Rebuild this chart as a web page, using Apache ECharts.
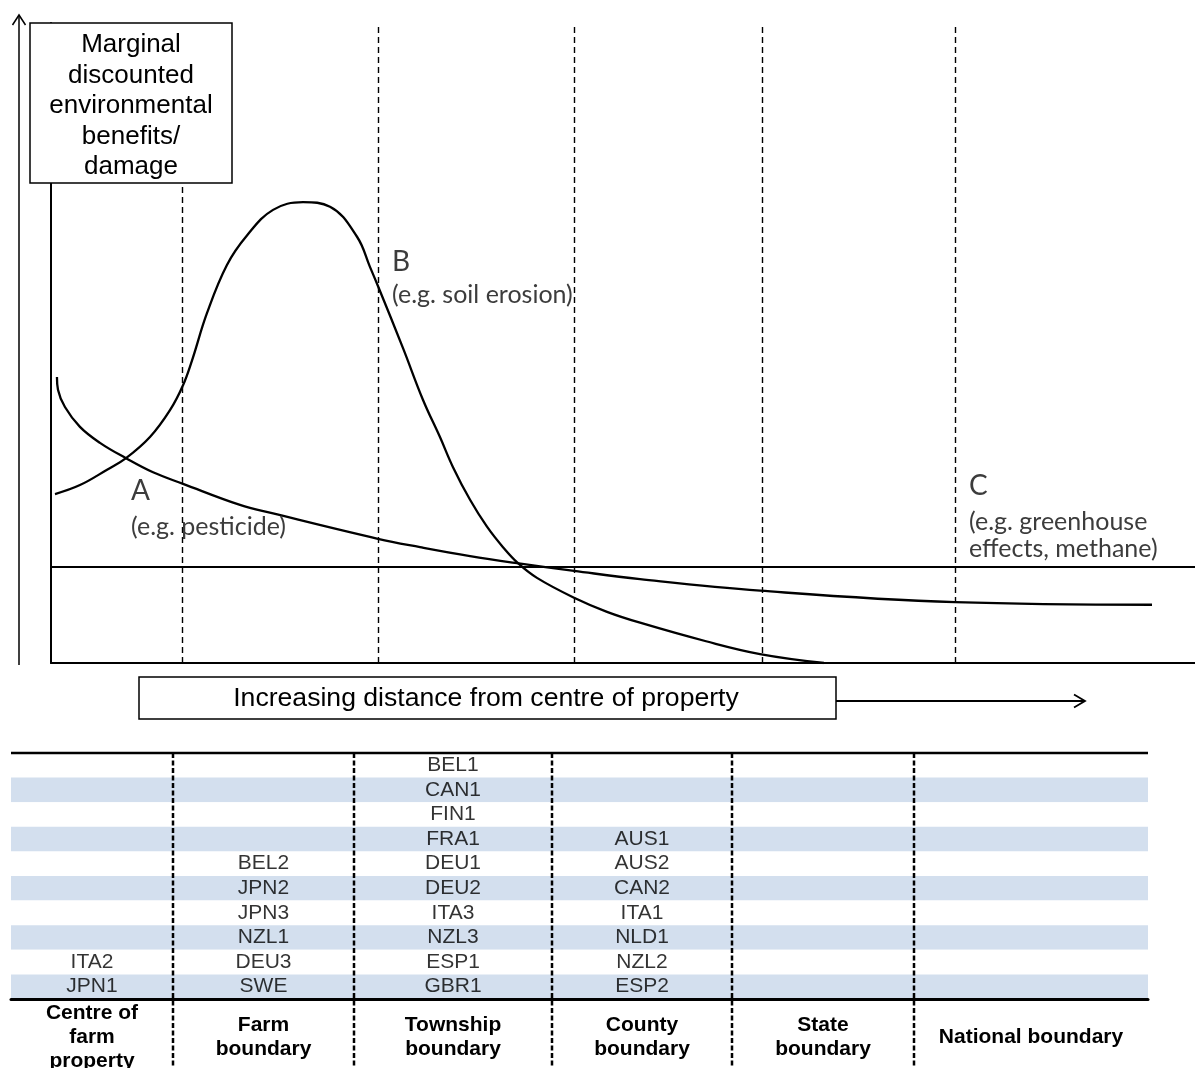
<!DOCTYPE html>
<html>
<head>
<meta charset="utf-8">
<script src="https://cdn.jsdelivr.net/npm/echarts@6/dist/echarts.min.js"></script>
<style>
html,body{margin:0;padding:0;background:#ffffff;}
#chart{width:1195px;height:1068px;}
</style>
</head>
<body>
<div id="chart"></div>
<script>
// ---------- DATA ----------
// Curve A (e.g. pesticide): [distance, marginal benefit/damage]
const curveA = [[0.52,44.7],[0.61,42.7],[1.22,40.0],[2.53,36.9],[4.28,34.4],[6.56,32.0],[8.92,29.8],[11.54,28.0],[16.52,24.7],[19.32,23.4],[28.58,19.4],[32.26,18.1],[36.63,16.7],[40.73,15.6],[45.72,14.4],[51.49,13.1],[61.98,11.3],[79.02,9.5],[96.24,9.1]];
// Curve B (e.g. soil erosion)
const curveB = [[0.35,26.4],[2.53,27.8],[4.9,30.2],[6.56,32.0],[8.65,35.3],[10.4,39.5],[11.54,43.4],[12.33,47.3],[13.64,54.7],[15.38,62.2],[17.13,66.8],[19.41,70.8],[22.03,72.0],[24.39,71.3],[26.75,66.6],[27.88,61.9],[28.58,58.9],[30.77,49.2],[32.52,41.1],[34.0,35.3],[35.14,30.6],[36.63,25.5],[38.11,21.3],[39.51,18.1],[40.82,15.6],[42.48,13.3],[45.72,10.2],[48.6,8.0],[51.49,6.3],[57.26,3.4],[61.98,1.4],[67.57,0]];
// Boundary positions along the distance axis (dashed lines)
const boundaryPositions = [11.5, 28.6, 45.7, 62.2, 79.0];
// Reference level (horizontal line)
const referenceLevel = [15];

// Table: boundary names (headers) and case studies per boundary
const boundaryLabels = ['Centre of\nfarm\nproperty','Farm\nboundary','Township\nboundary','County\nboundary','State\nboundary','National boundary'];
const centreCases = ['ITA2','JPN1'];
const farmCases = ['BEL2','JPN2','JPN3','NZL1','DEU3','SWE'];
const townshipCases = ['BEL1','CAN1','FIN1','FRA1','DEU1','DEU2','ITA3','NZL3','ESP1','GBR1'];
const countyCases = ['AUS1','AUS2','CAN2','ITA1','NLD1','NZL2','ESP2'];
const stateCases = [];
const nationalCases = [];
const tableRows = ['1','2','3','4','5','6','7','8','9','10'];

// ---------- LAYOUT ----------
const colEdges = [11, 173, 354, 552, 732, 914, 1148];
const tableTop = 753, tableHeight = 246;
const casesByColumn = [centreCases, farmCases, townshipCases, countyCases, stateCases, nationalCases];

const FONT = 'Liberation Sans, Arial, sans-serif';
const NOTE_FONT = 'Lato, Carlito, Calibri, sans-serif';
const NOTE_COLOR = '#3c3c3c';

const grids = [{left: 51, top: 23, width: 1144, height: 640, outerBoundsMode: 'none', containLabel: false}];
const xAxes = [{
  type: 'value', gridIndex: 0, min: 0, max: 100,
  axisLine: {show: true, onZero: false, lineStyle: {color: '#000', width: 2}},
  axisTick: {show: false}, axisLabel: {show: false}, splitLine: {show: false}
}];
const yAxes = [{
  type: 'value', gridIndex: 0, min: 0, max: 100,
  axisLine: {show: true, onZero: false, lineStyle: {color: '#000', width: 2}},
  axisTick: {show: false}, axisLabel: {show: false}, splitLine: {show: false}
}];

const series = [
  {
    type: 'line', xAxisIndex: 0, yAxisIndex: 0, data: curveA, smooth: 0.4,
    showSymbol: false, symbol: 'none', lineStyle: {color: '#000', width: 2.3}, silent: true, z: 5,
    markLine: {
      silent: true, symbol: 'none', label: {show: false},
      data: boundaryPositions.map(v => ({xAxis: v, lineStyle: {color: '#000', width: 1.4, type: [6, 4]}}))
    }
  },
  {
    type: 'line', xAxisIndex: 0, yAxisIndex: 0, data: curveB, smooth: 0.4,
    showSymbol: false, symbol: 'none', lineStyle: {color: '#000', width: 2.3}, silent: true, z: 5,
    markLine: {
      silent: true, symbol: 'none', label: {show: false},
      data: referenceLevel.map(v => ({yAxis: v, lineStyle: {color: '#000', width: 2.2, type: 'solid'}}))
    }
  }
];

casesByColumn.forEach((cases, i) => {
  const gi = i + 1;
  grids.push({left: colEdges[i], top: tableTop, width: colEdges[i + 1] - colEdges[i], height: tableHeight,
    outerBoundsMode: 'none', containLabel: false});
  xAxes.push({
    type: 'category', gridIndex: gi, data: [boundaryLabels[i]], boundaryGap: true,
    axisLine: {show: true, lineStyle: {color: '#000', width: 3}},
    axisTick: {show: false}, splitLine: {show: false},
    axisLabel: {show: true, interval: 0, margin: 38, verticalAlign: 'middle',
      fontFamily: FONT, fontSize: 21, fontWeight: 'bold', color: '#000', lineHeight: 24}
  });
  yAxes.push({
    type: 'category', gridIndex: gi, data: tableRows, inverse: true,
    axisLine: {show: false}, axisTick: {show: false}, axisLabel: {show: false}, splitLine: {show: false},
    splitArea: {show: true, areaStyle: {color: ['#ffffff', '#D3DFEE']}}
  });
  const start = tableRows.length - cases.length;
  series.push({
    type: 'scatter', xAxisIndex: gi, yAxisIndex: gi, symbolSize: 1, silent: true,
    itemStyle: {color: 'rgba(0,0,0,0)'},
    data: cases.map((c, k) => ({name: c, value: [0, start + k]})),
    label: {show: true, position: 'inside', formatter: '{b}', fontFamily: FONT, fontSize: 21, color: '#000'}
  });
});

// ---------- DECORATIONS ----------
const graphic = [
  // outer vertical arrow
  {type: 'polyline', z: 50, shape: {points: [[19, 665], [19, 15]]}, style: {stroke: '#000', lineWidth: 1.5, fill: null}},
  {type: 'polyline', z: 50, shape: {points: [[12.5, 25], [19, 15], [25.5, 25]]}, style: {stroke: '#000', lineWidth: 1.5, fill: null}},
  // title box
  {type: 'rect', z: 60, shape: {x: 30, y: 23, width: 202, height: 160}, style: {fill: '#fff', stroke: '#000', lineWidth: 1.5}},
  {type: 'text', z: 61, style: {text: 'Marginal\ndiscounted\nenvironmental\nbenefits/\ndamage', x: 131, y: 106,
    align: 'center', verticalAlign: 'middle', fontFamily: FONT, fontSize: 26, lineHeight: 30.5, fill: '#000'}},
  // x label box + arrow
  {type: 'rect', z: 60, shape: {x: 139, y: 677, width: 697, height: 42}, style: {fill: '#fff', stroke: '#000', lineWidth: 1.5}},
  {type: 'text', z: 61, style: {text: 'Increasing distance from centre of property', x: 486, y: 699,
    align: 'center', verticalAlign: 'middle', fontFamily: FONT, fontSize: 26.6, fill: '#000'}},
  {type: 'polyline', z: 50, shape: {points: [[836, 701], [1085, 701]]}, style: {stroke: '#000', lineWidth: 1.8, fill: null}},
  {type: 'polyline', z: 50, shape: {points: [[1074, 694.5], [1085, 701], [1074, 707.5]]}, style: {stroke: '#000', lineWidth: 1.8, fill: null}},
  // curve annotations
  {type: 'text', z: 61, style: {text: 'A', x: 131, y: 491, verticalAlign: 'middle', fontFamily: NOTE_FONT, fontSize: 28, fill: NOTE_COLOR}},
  {type: 'text', z: 61, style: {text: '(e.g. pesticide)', x: 131, y: 527, verticalAlign: 'middle', fontFamily: NOTE_FONT, fontSize: 25, fill: NOTE_COLOR}},
  {type: 'text', z: 61, style: {text: 'B', x: 392, y: 262, verticalAlign: 'middle', fontFamily: NOTE_FONT, fontSize: 28, fill: NOTE_COLOR}},
  {type: 'text', z: 61, style: {text: '(e.g. soil erosion)', x: 392, y: 295, verticalAlign: 'middle', fontFamily: NOTE_FONT, fontSize: 25, fill: NOTE_COLOR}},
  {type: 'text', z: 61, style: {text: 'C', x: 969, y: 486, verticalAlign: 'middle', fontFamily: NOTE_FONT, fontSize: 28, fill: NOTE_COLOR}},
  {type: 'text', z: 61, style: {text: '(e.g. greenhouse', x: 969, y: 522, verticalAlign: 'middle', fontFamily: NOTE_FONT, fontSize: 25, fill: NOTE_COLOR}},
  {type: 'text', z: 61, style: {text: 'effects, methane)', x: 969, y: 549, verticalAlign: 'middle', fontFamily: NOTE_FONT, fontSize: 25, fill: NOTE_COLOR}},
  // table top rule
  {type: 'line', z: 50, shape: {x1: colEdges[0], y1: tableTop, x2: colEdges[colEdges.length - 1], y2: tableTop}, style: {stroke: '#000', lineWidth: 2.5}}
];
// table column separators (dotted)
colEdges.slice(1, -1).forEach(x => {
  graphic.push({type: 'line', z: 50, shape: {x1: x, y1: tableTop, x2: x, y2: 1068},
    style: {stroke: '#000', lineWidth: 2.5, lineDash: [5, 2.5]}});
});

const chart = echarts.init(document.getElementById('chart'), null, {renderer: 'canvas'});
chart.setOption({
  animation: false,
  backgroundColor: '#ffffff',
  grid: grids,
  xAxis: xAxes,
  yAxis: yAxes,
  series: series,
  graphic: graphic
});
</script>
</body>
</html>
